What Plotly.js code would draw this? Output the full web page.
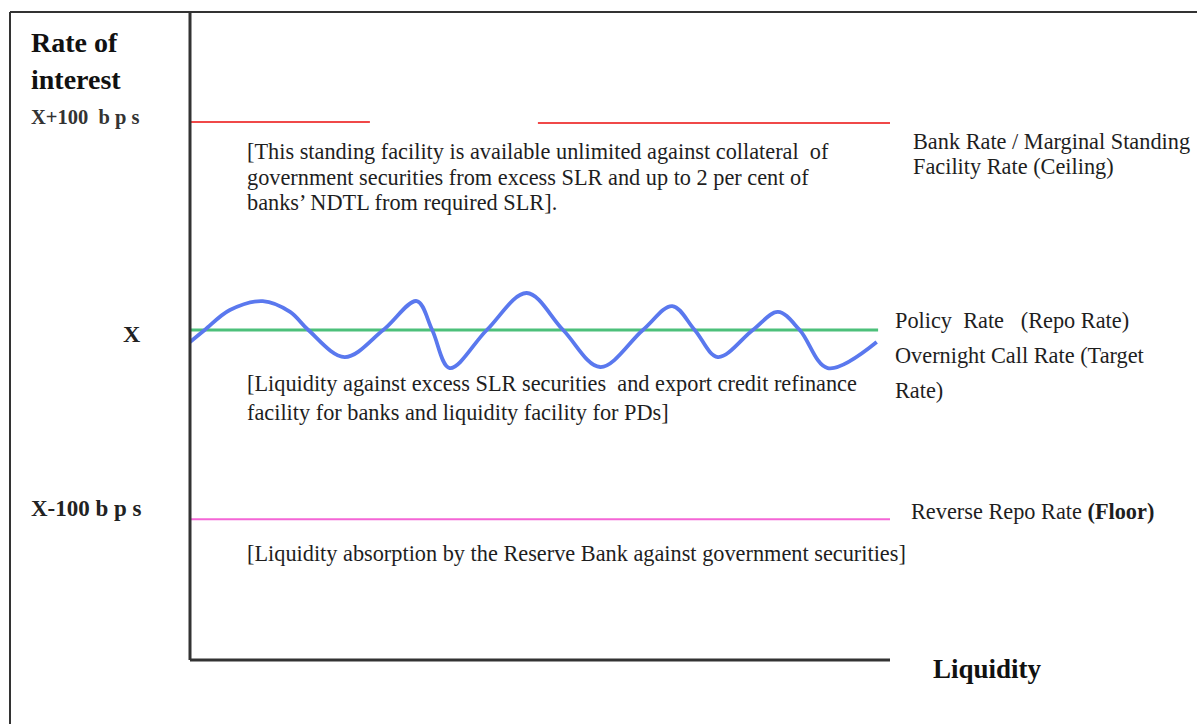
<!DOCTYPE html>
<html>
<head>
<meta charset="utf-8">
<script src="https://cdn.plot.ly/plotly-3.0.1.min.js"></script>
<style>html,body{margin:0;padding:0;background:#fff;}#chart{width:1197px;height:724px;}</style>
</head>
<body>
<div id="chart"></div>
<script>
// Liquidity (x, 0..100 along the horizontal axis) and rate relative to X (y, bps)
var ceilingRate = 100;      // X + 100 bps (Bank Rate / MSF)
var policyRate = 0;         // X (Repo rate)
var floorRate = -91;        // X - 100 bps (Reverse repo) as drawn
var ceilingSeg1 = [0, 25.7];
var ceilingSeg2 = [49.7, 100];
var policyX = [0, 98.3];
var floorX = [0, 100];
// Overnight call rate wave
var callX = [0, 2.1, 5.7, 10.4, 14.3, 16.9, 22.1, 27.6, 32.4, 34.6, 37.1, 42.4, 48.1, 53.3, 58.6, 64.7, 68.9, 72.1, 75.4, 80.4, 84.0, 87.1, 91.1, 98.1];
var callY = [-5.8, 0, 9.6, 13.9, 8.7, 0, -13.0, 0, 13.9, 0, -18.3, 0, 17.8, 0, -17.8, 0, 11.5, 0, -13.0, 0, 8.7, 0, -18.3, -5.8];
var axisTop = 152.9, axisBottom = -158.7, axisRight = 100;

var FW = 1197, FH = 724;
var xr = [-190/7, (FW-190)/7];
var yr = [(330-FH)/2.08, 330/2.08];

var traces = [
  {x: ceilingSeg1, y: [ceilingRate, ceilingRate], mode:'lines', line:{color:'#f04848', width:2}},
  {x: ceilingSeg2, y: [ceilingRate-0.5, ceilingRate-0.5], mode:'lines', line:{color:'#f04848', width:2}},
  {x: policyX, y: [policyRate, policyRate], mode:'lines', line:{color:'#4cc07a', width:3}},
  {x: floorX, y: [floorRate, floorRate], mode:'lines', line:{color:'#f466d6', width:2}},
  {x: callX, y: callY, mode:'lines', line:{color:'#5a78ee', width:3.8, shape:'spline', smoothing:1}}
];

function P(px, py){ return {x: px/FW, y: 1 - py/FH}; }
var txt = '#1e1e1e';
var serif = 'Liberation Serif, Times New Roman, serif';
var body = 22.3;
function ann(px, py, text, size, bold, color){
  var p = P(px, py);
  return {xref:'paper', yref:'paper', x:p.x, y:p.y, xanchor:'left', yanchor:'middle',
    text: bold ? '<b>'+text+'</b>' : text, showarrow:false,
    font:{family:serif, size:size, color:color||txt}};
}
var annotations = [
  ann(29, 43, 'Rate of', 28, true, '#111'),
  ann(29, 80, 'interest', 28, true, '#111'),
  ann(29, 118, 'X+100&nbsp; b p s', 20.5, true, '#333'),
  ann(121, 334, 'X', 24, true, '#222'),
  ann(29, 508, 'X-100 b p s', 23, true, '#222'),
  ann(245, 151, '[This standing facility is available unlimited against collateral&nbsp; of', body),
  ann(245, 177, 'government securities from excess SLR and up to 2 per cent of', body),
  ann(245, 202, 'banks\u2019 NDTL from required SLR].', body),
  ann(911, 141, 'Bank Rate / Marginal Standing', body),
  ann(911, 166, 'Facility Rate (Ceiling)', body),
  ann(893, 320, 'Policy&nbsp; Rate&nbsp;&nbsp; (Repo Rate)', body),
  ann(893, 355, 'Overnight Call Rate (Target', body),
  ann(893, 390, 'Rate)', body),
  ann(245, 383, '[Liquidity against excess SLR securities&nbsp; and export credit refinance', body),
  ann(245, 412, 'facility for banks and liquidity facility for PDs]', body),
  ann(909, 511, 'Reverse Repo Rate <b>(Floor)</b>', body),
  ann(245, 553, '[Liquidity absorption by the Reserve Bank against government securities]', body),
  ann(931, 669, 'Liquidity', 27, true, '#111')
];

var shapes = [
  {type:'line', xref:'paper', yref:'paper', x0:10/FW, x1:1, y0:1-12/FH, y1:1-12/FH, line:{color:'#333', width:2}},
  {type:'line', xref:'paper', yref:'paper', x0:10/FW, x1:10/FW, y0:1-12/FH, y1:0, line:{color:'#333', width:2}},
  {type:'line', xref:'x', yref:'y', x0:0, x1:0, y0:axisBottom, y1:axisTop, line:{color:'#333', width:3}},
  {type:'line', xref:'x', yref:'y', x0:0, x1:axisRight, y0:axisBottom, y1:axisBottom, line:{color:'#333', width:3}}
];

var layout = {
  width: FW, height: FH,
  margin: {l:0, r:0, t:0, b:0},
  paper_bgcolor:'#fff', plot_bgcolor:'#fff',
  showlegend:false,
  xaxis:{range:xr, visible:false, fixedrange:true},
  yaxis:{range:yr, visible:false, fixedrange:true},
  shapes: shapes,
  annotations: annotations
};
Plotly.newPlot('chart', traces, layout, {staticPlot:true});
</script>
</body>
</html>
